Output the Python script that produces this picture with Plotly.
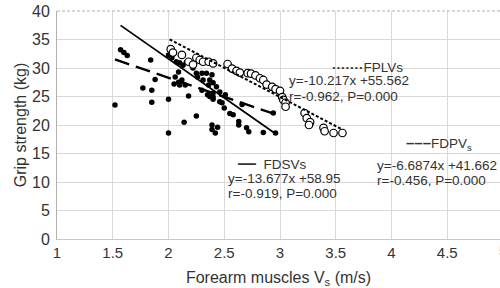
import plotly.graph_objects as go

# ---- data ----
fplv_x = [2.02, 2.04, 2.12, 2.18, 2.22, 2.25, 2.28, 2.31, 2.36, 2.40, 2.53, 2.57, 2.61,
          2.64, 2.71, 2.74, 2.78, 2.82, 2.85, 2.88, 2.93, 2.96, 3.00, 3.02, 3.03, 3.05,
          3.05, 3.22, 3.24, 3.27, 3.26, 3.39, 3.40, 3.48, 3.56]
fplv_y = [33.3, 32.7, 32.3, 31.1, 30.6, 31.8, 31.4, 31.1, 31.1, 30.8, 30.7, 29.9, 29.5,
          29.2, 29.1, 29.0, 28.7, 28.2, 27.9, 27.1, 26.7, 26.3, 26.0, 24.9, 24.4, 23.9,
          23.2, 22.1, 21.2, 20.5, 20.0, 19.5, 18.9, 18.6, 18.6]

fdsv_x = [1.57, 1.60, 1.63, 2.00, 2.03, 2.07, 2.10, 2.13, 2.16, 2.09, 2.22, 2.25, 2.30,
          2.34, 2.39, 2.26, 2.31, 2.37, 2.40, 2.36, 2.43, 2.40, 2.46, 2.51, 2.46, 2.48,
          2.50, 2.55, 2.58, 2.63, 2.63, 2.70, 2.72, 2.96, 2.85]
fdsv_y = [33.2, 32.7, 32.2, 32.3, 31.8, 31.1, 30.9, 30.5, 31.0, 29.3, 30.0, 29.1, 29.1,
          29.1, 28.8, 28.4, 27.9, 27.9, 27.4, 27.0, 26.7, 25.6, 25.8, 25.3, 24.1, 23.9,
          23.0, 22.0, 21.8, 20.6, 20.0, 19.5, 18.8, 18.6, 18.7]

fdpv_x = [1.52, 1.77, 1.84, 1.85, 1.85, 1.88, 2.00, 2.00, 2.06, 2.09, 2.12, 2.05, 2.10,
          2.15, 2.14, 2.18, 2.25, 2.30, 2.35, 2.40, 2.37, 2.40, 2.39, 2.44, 2.39, 2.42,
          2.66, 2.94]
fdpv_y = [23.5, 26.5, 31.4, 26.1, 24.0, 28.0, 24.5, 18.6, 28.4, 27.5, 27.9, 27.2, 27.0,
          27.0, 20.5, 25.1, 21.6, 26.1, 25.3, 24.9, 25.0, 24.5, 20.0, 19.6, 19.2, 18.6,
          23.6, 22.1]

# regression lines: slope, intercept, x extent
fplv_fit = (-10.217, 55.562, [2.01, 3.56])
fdsv_fit = (-13.677, 58.95, [1.57, 2.96])
fdpv_fit = (-6.6874, 41.662, [1.52, 2.95])

x_ticks = [1, 1.5, 2, 2.5, 3, 3.5, 4, 4.5]
y_ticks = [0, 5, 10, 15, 20, 25, 30, 35, 40]

FONT = "Liberation Sans, Arial, Helvetica, sans-serif"
TXT = "#333333"

def fit_line(fit):
    m, b, xs = fit
    return xs, [m * x + b for x in xs]

fig = go.Figure()

dot = dict(color="black", size=5.5)
fig.add_trace(go.Scatter(x=fdpv_x, y=fdpv_y, mode="markers", marker=dot, showlegend=False))
fig.add_trace(go.Scatter(x=fdsv_x, y=fdsv_y, mode="markers", marker=dot, showlegend=False))
fig.add_trace(go.Scatter(x=fplv_x, y=fplv_y, mode="markers",
                         marker=dict(color="white", size=7.5, line=dict(color="black", width=1.2)),
                         showlegend=False))

lx, ly = fit_line(fplv_fit)
fig.add_trace(go.Scatter(x=lx, y=ly, mode="lines", line=dict(color="black", width=2, dash="3px,2px"),
                         showlegend=False))
lx, ly = fit_line(fdsv_fit)
fig.add_trace(go.Scatter(x=lx, y=ly, mode="lines", line=dict(color="black", width=1.8),
                         showlegend=False))
lx, ly = fit_line(fdpv_fit)
fig.add_trace(go.Scatter(x=lx, y=ly, mode="lines", line=dict(color="black", width=2.4, dash="15px,7px"),
                         showlegend=False))

ann_font = dict(family=FONT, size=13.5, color=TXT)

def px_ann(text, x, y, xanchor="left"):
    # x,y given in pixels of the 500x288 canvas
    fig.add_annotation(text=text, xref="paper", yref="paper",
                       x=(x - 57) / 443, y=(239 - y) / 228,
                       xanchor=xanchor, yanchor="middle", showarrow=False, font=ann_font)

px_ann("<b>·······</b>FPLVs", 330, 67)
px_ann("y=-10.217x +55.562", 287, 81)
px_ann("r=-0.962, P=0.000", 287, 97)
px_ann("<span style='font-size:18px'><b>—</b></span>  FDSVs", 236, 163)
px_ann("y=-13.677x +58.95", 226, 178)
px_ann("r=-0.919, P=0.000", 226, 193)
px_ann("<span style='font-size:15px'><b>–––</b></span>FDPV<sub>s</sub>", 404, 143)
px_ann("y=-6.6874x +41.662", 375, 165)
px_ann("r=-0.456, P=0.000", 375, 180)

# partially visible "5" tick at the right edge
fig.add_annotation(text="5", xref="paper", yref="paper", x=(503 - 57) / 443, y=0,
                   xanchor="center", yanchor="top", yshift=-1, showarrow=False,
                   font=dict(family=FONT, size=15, color=TXT))

# dashed top border
fig.add_shape(type="line", xref="paper", yref="paper", x0=0, x1=1, y0=1, y1=1,
              line=dict(color="#b0b0b0", width=1, dash="3px,2px"))

fig.update_layout(
    width=500, height=288, autosize=False,
    margin=dict(l=57, r=0, t=11, b=49, autoexpand=False),
    paper_bgcolor="white", plot_bgcolor="white",
    font=dict(family=FONT, color=TXT),
    showlegend=False,
)
fig.update_xaxes(range=[1, 4.973], tickvals=x_ticks, ticktext=[str(v) for v in x_ticks],
                 automargin=False,
                 showgrid=True, gridcolor="#d9d9d9", gridwidth=1,
                 showline=True, linecolor="#c8c8c8", linewidth=1, zeroline=False,
                 ticks="", tickfont=dict(size=15, color=TXT),
                 title=dict(text="Forearm muscles V<sub>s</sub> (m/s)", font=dict(size=16, color=TXT),
                            standoff=16))
fig.update_yaxes(range=[0, 40], tickvals=y_ticks, automargin=False,
                 showgrid=True, gridcolor="#d9d9d9", gridwidth=1,
                 showline=True, linecolor="#b0b0b0", linewidth=1, zeroline=False,
                 ticks="", tickfont=dict(size=16, color=TXT), ticklabelstandoff=3,
                 title=dict(text="Grip strength (kg)", font=dict(size=16, color=TXT), standoff=1))

fig.write_html("out.html", config={"responsive": False, "displayModeBar": False},
               post_script="document.body.style.margin='0';document.body.style.padding='0';")
